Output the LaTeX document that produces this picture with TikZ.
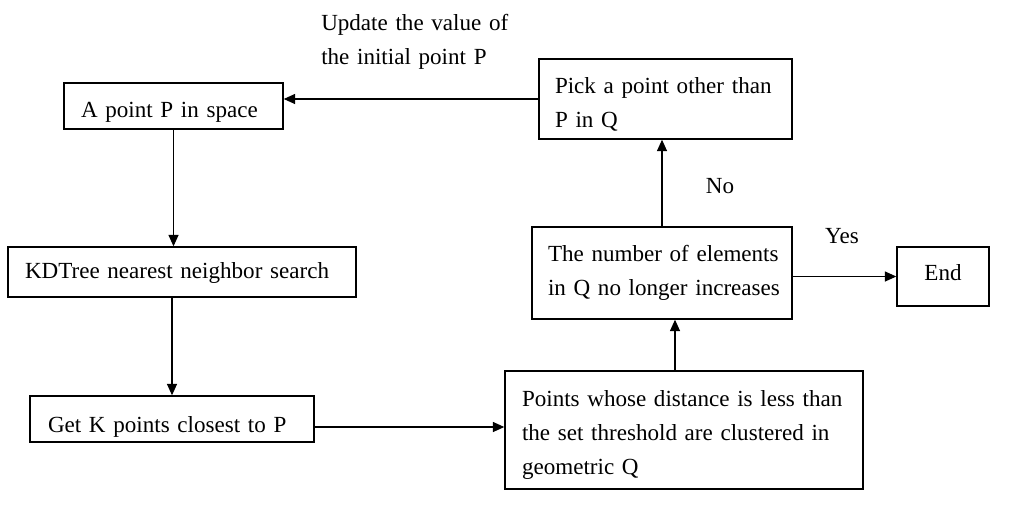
\documentclass[tikz,border=0pt]{standalone}
\usepackage{fontspec}
\setmainfont{Liberation Serif}
\usetikzlibrary{arrows.meta,calc}
\newcommand{\jl}[2]{\makebox[#1pt][s]{#2}}
\newcommand{\dn}[1]{\rule{0pt}{#1pt}}
\begin{document}
\begin{tikzpicture}[x=0.75pt,y=-0.75pt,
  font={\fontsize{17.3}{25.5}\selectfont\spaceskip=0.19em plus 0.5em minus 0.05em\relax},
  box/.style={draw,line width=1.1pt,inner ysep=0pt,align=left},
  arr/.style={line width=0.8pt,-{Triangle[length=8.5pt,width=7.5pt]}},
  lbl/.style={inner sep=0pt}]
\useasboundingbox (0,0) rectangle (1023,504);
\node[box,minimum width=164.25pt,minimum height=34.5pt,text width=138.75pt,inner xsep=12.75pt] (A) at (173.5,106) {\dn{21}\mbox{A point P in space}};
\node[box,minimum width=261pt,minimum height=37.5pt,text width=235.5pt,inner xsep=12.75pt] (KD) at (182,272) {\dn{13}\mbox{KDTree nearest neighbor search}};
\node[box,minimum width=213pt,minimum height=34.5pt,text width=186pt,inner xsep=13.5pt] (GK) at (172,419) {\dn{24}\mbox{Get K points closest to P}};
\node[box,minimum width=268.5pt,minimum height=88.5pt,text width=243pt,inner xsep=12.75pt] (PT) at (684,430) {\dn{19.5}\jl{243}{Points whose distance is less than}\\\jl{243}{the set threshold are clustered in}\\\mbox{geometric Q}};
\node[box,minimum width=195pt,minimum height=69pt,text width=171pt,inner xsep=12pt] (NQ) at (662,273) {\mbox{The number of elements}\\\mbox{in Q no longer increases}};
\node[box,minimum width=189.75pt,minimum height=60pt,text width=165.75pt,inner xsep=12pt] (PK) at (665.5,99) {\dn{19.5}\jl{165.75}{Pick a point other than}\\\mbox{P in Q}};
\node[box,minimum width=69pt,minimum height=44.25pt,align=center,inner xsep=0pt] (END) at (943,276.5) {\raisebox{6pt}{End}};
\node[lbl,anchor=west,text width=149.25pt,align=left] (UP) at (321,41.5) {\jl{149.25}{Update the value of}\\\mbox{the initial point P}};
\node[lbl] (NO) at (720,186) {No};
\node[lbl] (YES) at (842,236) {Yes};
\coordinate (pn) at ($(NQ.south)+(13,0)$);
\draw[arr] (PK.west) -- (PK.west -| A.east);
\draw[arr] (A.south) -- (A.south |- KD.north);
\draw[arr] (GK.north |- KD.south) -- (GK.north);
\draw[arr] ([yshift=-6pt]GK.east) -- ([yshift=-6pt]GK.east -| PT.west);
\draw[arr] (pn |- PT.north) -- (pn);
\draw[arr] (NQ.north) -- (NQ.north |- PK.south);
\draw[arr] (END.west -| NQ.east) -- (END.west);
\end{tikzpicture}
\end{document}
